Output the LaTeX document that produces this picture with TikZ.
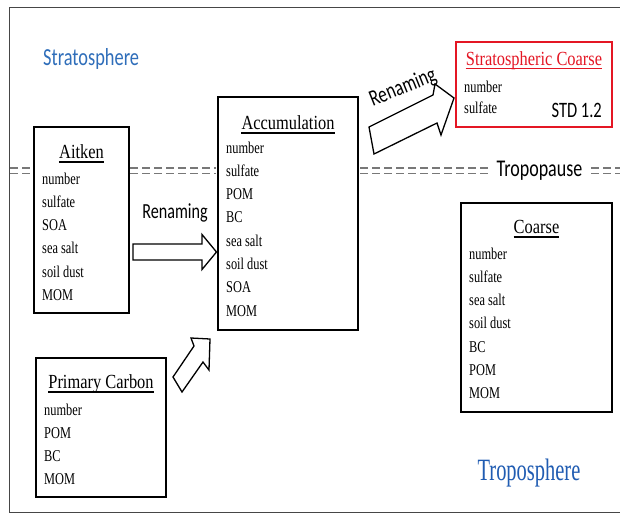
\documentclass[tikz,border=0pt]{standalone}
\usepackage{fontspec}
\newfontfamily\serifitem[FakeStretch=0.75]{Liberation Serif}
\newfontfamily\seriftitle[FakeStretch=0.82]{Liberation Serif}
\newfontfamily\serifbig[FakeStretch=0.66]{Liberation Serif}
\newfontfamily\sansn[FakeStretch=0.75]{Carlito}
\definecolor{stratblue}{RGB}{47,110,186}
\definecolor{tropblue}{RGB}{32,92,178}
\definecolor{coarsered}{RGB}{228,22,36}
\definecolor{framegray}{RGB}{70,70,70}
\definecolor{dashgray}{RGB}{120,120,120}
\begin{document}
\begin{tikzpicture}[x=1pt,y=-1pt,
  box/.style={draw=black, line width=1.3pt, inner sep=0pt},
  ttl/.style={anchor=base, inner sep=0pt, font=\seriftitle\fontsize{20}{24}\selectfont},
  itm/.style={anchor=base west, inner sep=0pt, font=\serifitem\fontsize{16.5}{18}\selectfont},
  uline/.style={line width=1.6pt},
  tpline/.style={draw=dashgray, line width=1.1pt, dash pattern=on 8pt off 4pt},
  blockarrow/.style={draw=black, line width=1.3pt, fill=white, line join=miter},
  sanslabel/.style={anchor=base, inner sep=0pt, font=\sansn\fontsize{21.5}{24}\selectfont}]
\useasboundingbox (0,0) rectangle (620,514);
\fill[white] (0,0) rectangle (620,514);
% frame
\draw[framegray, line width=1pt] (625,7) -- (9,7) -- (9,512) -- (625,512);

% tropopause double dashed lines
\foreach \yy in {168,173.5}{
  \draw[tpline] (10,\yy) -- (33,\yy);
  \draw[tpline] (130,\yy) -- (216,\yy);
  \draw[tpline] (360,\yy) -- (488,\yy);
  \draw[tpline] (591,\yy) -- (622,\yy);
}
\node[anchor=base, inner sep=0pt, font=\sansn\fontsize{24}{28}\selectfont] (tropopause) at (539.5,176) {Tropopause};
\node[anchor=base west, inner sep=0pt, text=stratblue, font=\sansn\fontsize{24.5}{28}\selectfont] (strato) at (43,65) {Stratosphere};
\node[anchor=base, inner sep=0pt, text=tropblue, font=\serifbig\fontsize{31}{34}\selectfont] (tropo) at (529,480) {Troposphere};

% boxes
\node[box, minimum width=95pt, minimum height=186pt] (aitken) at (81.5,220) {};
\node[box, minimum width=140pt, minimum height=233pt] (accum) at (288,213.5) {};
\node[box, draw=coarsered, minimum width=156pt, minimum height=85pt] (scoarse) at (534,84.5) {};
\node[box, minimum width=151pt, minimum height=209pt] (coarse) at (536.5,307.5) {};
\node[box, minimum width=130pt, minimum height=139pt] (pcarbon) at (101,427.5) {};

% titles
\node[ttl] (taitken) at (81.5,158) {Aitken};
\node[ttl] (taccum) at (288,129) {Accumulation};
\node[ttl, text=coarsered] (tscoarse) at (534,65) {Stratospheric Coarse};
\node[ttl] (tcoarse) at (536.5,233) {Coarse};
\node[ttl] (tpcarbon) at (101,388) {Primary Carbon};
\foreach \t in {taitken,taccum,tcoarse,tpcarbon}{
  \draw[uline] ([yshift=-4pt]\t.base west) -- ([yshift=-4pt]\t.base east);
}
\draw[uline, coarsered] ([yshift=-3.5pt]tscoarse.base west) -- ([yshift=-3.5pt]tscoarse.base east);

% items
\foreach \s [count=\i] in {number,sulfate,SOA,sea salt,soil dust,MOM}
  \node[itm] (ait\i) at (42,{184+23.3*(\i-1)}) {\s};
\foreach \s [count=\i] in {number,sulfate,POM,BC,sea salt,soil dust,SOA,MOM}
  \node[itm] (acc\i) at (226,{153+23.3*(\i-1)}) {\s};
\foreach \s [count=\i] in {number,sulfate,sea salt,soil dust,BC,POM,MOM}
  \node[itm] (crs\i) at (469,{259+23.3*(\i-1)}) {\s};
\foreach \s [count=\i] in {number,POM,BC,MOM}
  \node[itm] (pc\i) at (44,{415+23*(\i-1)}) {\s};
\foreach \s [count=\i] in {number,sulfate}
  \node[itm] (sc\i) at (464,{92+21.5*(\i-1)}) {\s};
\node[anchor=base east, inner sep=0pt, font=\sansn\fontsize{22}{24}\selectfont] (std) at (602,117) {STD 1.2};

% block arrows
\draw[blockarrow] (133,244) -- (202,244) -- (202,234.5) -- (216.5,252) -- (202,269.5) -- (202,260) -- (133,260) -- cycle;
\draw[blockarrow] (173,377) -- (194,346) -- (191,338) -- (210,339) -- (209,370) -- (203,362) -- (182,392) -- cycle;
\draw[blockarrow] (369,127) -- (433,95) -- (435,84) -- (454,98) -- (441,135) -- (437,123) -- (374,154) -- cycle;

% labels
\node[sanslabel] (ren1) at (175,218) {Renaming};
\node[inner sep=0pt, rotate=22, font=\sansn\fontsize{23}{26}\selectfont] (ren2) at (403,88) {Renaming};
\end{tikzpicture}
\end{document}
